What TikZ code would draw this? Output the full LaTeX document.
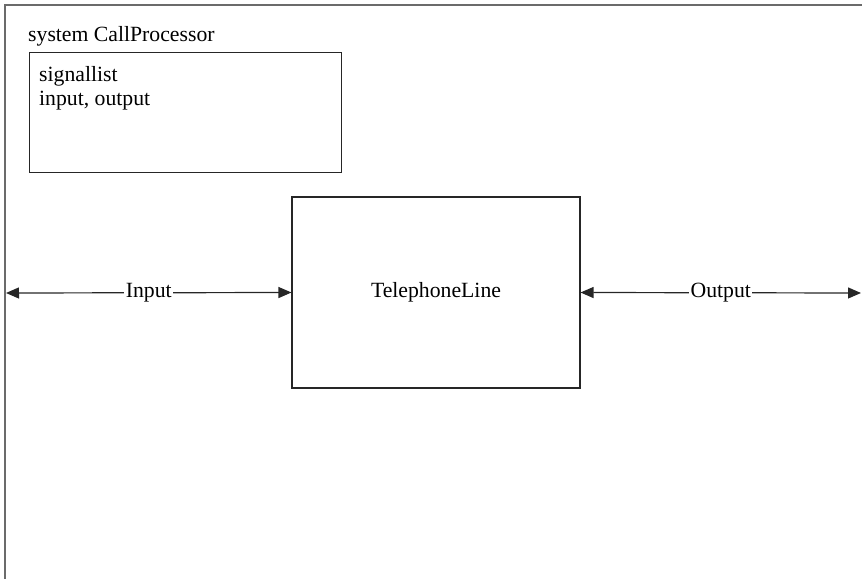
\documentclass[tikz,border=0pt]{standalone}
\usepackage{fontspec}
\setmainfont{Liberation Serif}
\usetikzlibrary{arrows.meta,positioning}

\begin{document}
\begin{tikzpicture}[x=1bp, y=-1bp,
    font=\fontsize{21.8}{24}\selectfont,
    frame/.style={draw=black!58, line width=2.4bp},
    blk/.style={rectangle, draw=black!85, line width=1.1bp, inner sep=0pt},
    sig/.style={draw=black!85, line width=1.2bp,
        {Triangle[length=13bp,width=11bp]}-{Triangle[length=13bp,width=11bp]}},
    lbl/.style={fill=white, inner xsep=1.5bp, inner ysep=0pt}
]
\useasboundingbox (0,0) rectangle (862,579);

% system frame, open to the right and below
\draw[frame] (5,579) -- (5,5) -- (862,5);
\node[anchor=base west, inner sep=0pt] (sysname) at (28,42) {system CallProcessor};

% signal declarations
\node[blk, anchor=north west, minimum width=312bp, minimum height=120bp] (decl) at (29,52) {};
\node[anchor=north west, align=left, inner sep=0pt] (decltext) at (39,66) {signallist\\input, output};

% block
\node[blk, minimum width=288bp, minimum height=191bp] (phone) at (436,292.5) {TelephoneLine};

% channels to the environment
\coordinate (envL) at (6,293);
\coordinate (envR) at (861,293);
\draw[sig] (envL) -- (phone.west) node[midway, lbl] {Input};
\draw[sig] (phone.east) -- (envR) node[midway, lbl] {Output};

\end{tikzpicture}
\end{document}
